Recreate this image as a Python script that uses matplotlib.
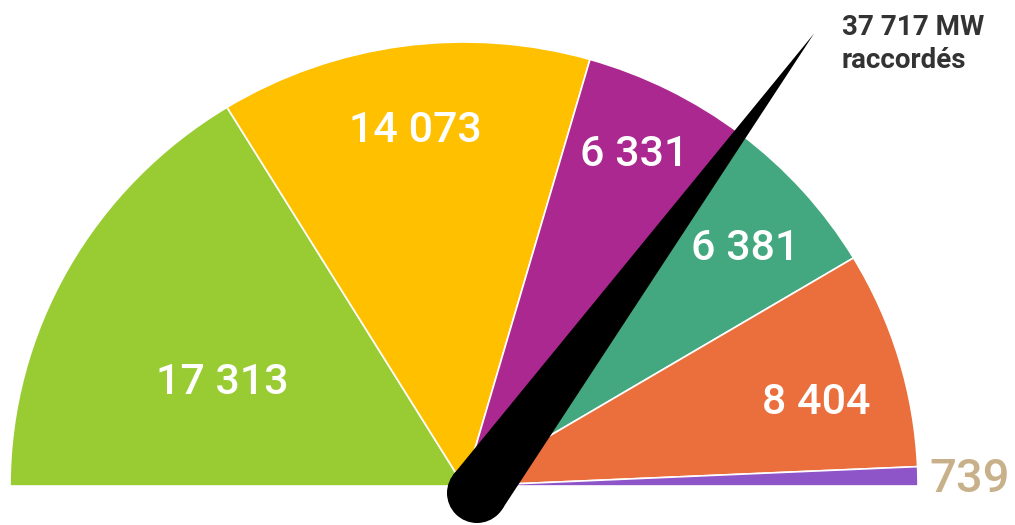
import numpy as np
import matplotlib
matplotlib.use("Agg")
import matplotlib.pyplot as plt
from matplotlib.patches import Polygon, Circle
from matplotlib.transforms import Affine2D

# ---- data ----
categories = ["A", "B", "C", "D", "E", "F"]
values = [17313, 14073, 6331, 6381, 8404, 739]
labels = ["17 313", "14 073", "6 331", "6 381", "8 404", "739"]
colors = ["#99CC33", "#FFC000", "#AB2890", "#43A87F", "#EB6E3D", "#8E55C8"]
needle_value = 37717
title_lines = ["37 717 MW", "raccordés"]

# ---- layout (pixel-like coordinates, y up) ----
W, H = 1015, 525
cx, cy = 464, 525 - 486
rx, ry = 454, 444
label_pos = [(222, 525 - 382), (415, 525 - 130), (634, 525 - 155),
             (745, 525 - 249), (816, 525 - 402), (929, 525 - 479)]
label_colors = ["white"] * 5 + ["#C8B08A"]
label_sizes = [31, 31, 31, 31, 31, 34]
pivot = (477, 525 - 493)
pivot_r = 30
needle_len = 570

fig = plt.figure(figsize=(W / 100, H / 100), dpi=100)
ax = fig.add_axes([0, 0, 1, 1])

total = sum(values)
wedges, _ = ax.pie(values + [total], colors=colors + ["white"], radius=rx,
                   center=(cx, cy), startangle=180, counterclock=False,
                   wedgeprops=dict(edgecolor="white", linewidth=1.2))
wedges[-1].set_visible(False)
squish = Affine2D().translate(-cx, -cy).scale(1, ry / rx).translate(cx, cy)
for w in wedges:
    w.set_transform(squish + ax.transData)

ax.set_aspect("auto")
ax.set_xlim(0, W)
ax.set_ylim(0, H)
ax.axis("off")

for (x, y), t, c, s in zip(label_pos, labels, label_colors, label_sizes):
    ha = "left" if c != "white" else "center"
    ax.text(x, y, t, color=c, fontsize=s, family="Roboto", weight="medium",
            ha=ha, va="center", zorder=3)

# needle: points to the value on the gauge
theta = np.pi * (1 - needle_value / total)
tx, ty = cx + rx * np.cos(theta), cy + ry * np.sin(theta)
ang = np.arctan2(ty - pivot[1], tx - pivot[0])
d = np.array([np.cos(ang), np.sin(ang)])
n = np.array([-d[1], d[0]])
p = np.array(pivot, dtype=float)
tip = p + needle_len * d
poly = Polygon([p + pivot_r * n, tip, p - pivot_r * n], closed=True,
               facecolor="black", edgecolor="none", zorder=5)
ax.add_patch(poly)
ax.add_patch(Circle(pivot, pivot_r, facecolor="black", edgecolor="none", zorder=5))

ax.text(842, 525 - 14, "\n".join(title_lines), color="#333333", fontsize=20,
        family="Roboto", weight="bold", ha="left", va="top", linespacing=1.3,
        zorder=6)

fig.savefig("out.png", dpi=100)
